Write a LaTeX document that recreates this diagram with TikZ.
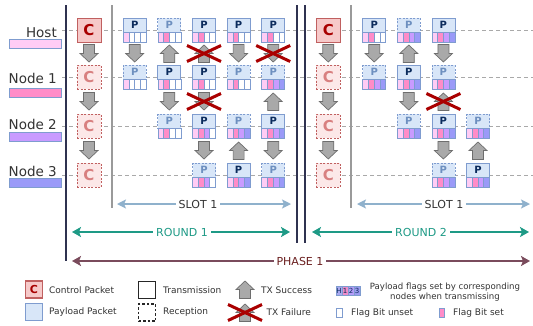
\documentclass[tikz,border=0pt]{standalone}
\usepackage{fontspec}
\setmainfont{DejaVu Sans}
\usetikzlibrary{arrows.meta}

\definecolor{fl1}{HTML}{FFCCF5}
\definecolor{fl2}{HTML}{FF8CC8}
\definecolor{fl3}{HTML}{C99BFF}
\definecolor{fl4}{HTML}{9A9AF8}
\definecolor{pblue}{HTML}{7F9CCF}
\definecolor{pfill}{HTML}{D8E6F8}
\definecolor{pnavy}{HTML}{0B2B5C}
\definecolor{plight}{HTML}{6D8FBF}
\definecolor{cfill}{HTML}{F6C9C9}
\definecolor{cfillr}{HTML}{FCE8E8}
\definecolor{cbord}{HTML}{C06060}
\definecolor{ctext}{HTML}{A80000}
\definecolor{ctextr}{HTML}{D88080}
\definecolor{darkline}{HTML}{2F3250}
\definecolor{grayline}{HTML}{9A9A9A}
\definecolor{slotc}{HTML}{8FB1CC}
\definecolor{roundc}{HTML}{1E9A86}
\definecolor{phasec}{HTML}{7A4B5C}
\definecolor{phaset}{HTML}{6A1E1E}
\definecolor{xred}{HTML}{AA0000}
\definecolor{garf}{HTML}{A9A9A9}
\definecolor{gard}{HTML}{6E6E6E}
\definecolor{txt}{HTML}{333333}

\tikzset{
  ptop/.style={draw=pblue, fill=pfill, line width=0.8pt, minimum width=23pt, minimum height=14pt,
    inner sep=0pt, outer sep=0pt, font=\bfseries\fontsize{10}{10}\selectfont},
  ptx/.style={solid, text=pnavy},
  prx/.style={dash pattern=on 2pt off 1.5pt, text=plight},
  flagc/.style={draw=pblue, line width=0.6pt, minimum width=5.75pt, minimum height=10pt, inner sep=0pt, outer sep=0pt},
  cbox/.style={draw=cbord, fill=cfill, line width=0.9pt, minimum size=24pt, inner sep=0pt,
    font=\bfseries\fontsize{15}{15}\selectfont, text=ctext},
  cboxr/.style={cbox, fill=cfillr, text=ctextr, dash pattern=on 2pt off 1.5pt},
  garrow/.style={draw=gard, fill=garf, line width=0.7pt, line join=miter},
  xcross/.style={draw=xred, line width=3pt},
  rowline/.style={draw=grayline!85, dash pattern=on 4pt off 3pt, line width=0.8pt},
  lbl/.style={font=\fontsize{13.5}{14}\selectfont, text=txt, inner sep=0pt, anchor=base east},
  bar/.style={draw=pblue, line width=0.8pt, minimum width=52pt, minimum height=9pt, inner sep=0pt},
  darkv/.style={draw=darkline, line width=2.4pt},
  grayv/.style={draw=grayline, line width=1.5pt},
  slotarr/.style={draw=slotc, line width=1.4pt, {Stealth[length=9pt,width=9pt,inset=2pt]}-{Stealth[length=9pt,width=9pt,inset=2pt]}},
  roundarr/.style={draw=roundc, line width=1.4pt, {Stealth[length=9pt,width=10pt,inset=2pt]}-{Stealth[length=9pt,width=10pt,inset=2pt]}},
  phasearr/.style={draw=phasec, line width=1.6pt, {Stealth[length=9pt,width=10pt,inset=2pt]}-{Stealth[length=9pt,width=10pt,inset=2pt]}},
  slotlbl/.style={fill=white, inner sep=3pt, text=txt, font=\fontsize{11}{12}\selectfont},
  roundlbl/.style={fill=white, inner sep=3pt, text=roundc, font=\fontsize{11}{12}\selectfont},
  phaselbl/.style={fill=white, inner sep=3pt, text=phaset, font=\fontsize{11}{12}\selectfont},
  legtxt/.style={anchor=west, inner sep=0pt, text=txt, font=\fontsize{9}{10}\selectfont},
  legbox/.style={minimum size=17pt, inner sep=0pt, line width=1.2pt},
}

% payload packet: name, x, y, style, number of set flags
\newcommand\Pkt[5]{%
  \node[ptop,#4] (#1) at (#2,{#3-5}) {P};
  \foreach \i in {1,...,4}{%
    \pgfmathsetmacro\fx{#2-11.5+5.75*(\i-0.5)}%
    \ifnum\i>#5 \def\fc{white}\else\def\fc{fl\i}\fi
    \node[flagc,fill=\fc] (#1f\i) at (\fx,{#3+7}) {};
  }%
}
% gray block arrow: x, y, dir (1 down, -1 up)
\newcommand\Garr[3]{%
  \draw[garrow] ({#1-5.5},{#2-9*(#3)}) -- ({#1+5.5},{#2-9*(#3)}) -- ({#1+5.5},#2) -- ({#1+9},#2)
    -- (#1,{#2+8.5*(#3)}) -- ({#1-9},#2) -- ({#1-5.5},#2) -- cycle;}
% red cross
\newcommand\Xx[2]{%
  \draw[xcross] ({#1-17},{#2-8}) -- ({#1+17},{#2+8});
  \draw[xcross] ({#1-17},{#2+8}) -- ({#1+17},{#2-8});}

\begin{document}
\begin{tikzpicture}[x=1pt,y=-1pt]
\useasboundingbox (0,0) rectangle (533,325);
\fill[white] (0,0) rectangle (533,325);

% row lines
\foreach \yy in {30,77,126,175}{\draw[rowline] (62,\yy) -- (533,\yy);}

% vertical lines
\draw[darkv] (66,5) -- (66,261);
\draw[grayv] (112,5) -- (112,208);
\draw[darkv] (297,5) -- (297,243);
\draw[darkv] (305,5) -- (305,243);
\draw[grayv] (351,5) -- (351,208);

% row labels
\node[lbl] (lh) at (57,37) {Host};
\node[bar,fill=fl1] (bh) at (35,43.5) {};
\node[lbl] (l1) at (57,83) {Node 1};
\node[bar,fill=fl2] (b1) at (35,92.5) {};
\node[lbl] (l2) at (57,129) {Node 2};
\node[bar,fill=fl3] (b2) at (35,137) {};
\node[lbl] (l3) at (57,176) {Node 3};
\node[bar,fill=fl4] (b3) at (35,183) {};

% control packets round 1
\node[cbox] (c1h) at (89,30) {C};
\node[cboxr] (c11) at (89,77) {C};
\node[cboxr] (c12) at (89,126) {C};
\node[cboxr] (c13) at (89,175) {C};
\Garr{89}{53.5}{1}
\Garr{89}{101.5}{1}
\Garr{89}{150.5}{1}

% control packets round 2
\node[cbox] (c2h) at (328.3,30) {C};
\node[cboxr] (c21) at (328.3,77) {C};
\node[cboxr] (c22) at (328.3,126) {C};
\node[cboxr] (c23) at (328.3,175) {C};
\Garr{328.3}{53.5}{1}
\Garr{328.3}{101.5}{1}
\Garr{328.3}{150.5}{1}

% round 1 payloads
\Pkt{ah1}{134.7}{30}{ptx}{1}
\Pkt{ah2}{169.3}{30}{prx}{2}
\Pkt{ah3}{204}{30}{ptx}{2}
\Pkt{ah4}{238.6}{30}{ptx}{2}
\Pkt{ah5}{273.2}{30}{ptx}{2}
\Pkt{aa1}{134.7}{77}{prx}{1}
\Pkt{aa2}{169.3}{77}{ptx}{2}
\Pkt{aa3}{204}{77}{ptx}{2}
\Pkt{aa4}{238.6}{77}{prx}{2}
\Pkt{aa5}{273.2}{77}{prx}{4}
\Pkt{ab2}{169.3}{126}{prx}{2}
\Pkt{ab3}{204}{126}{ptx}{3}
\Pkt{ab4}{238.6}{126}{prx}{4}
\Pkt{ab5}{273.2}{126}{ptx}{4}
\Pkt{ac3}{204}{175}{prx}{3}
\Pkt{ac4}{238.6}{175}{ptx}{4}
\Pkt{ac5}{273.2}{175}{prx}{4}

\Garr{134.7}{53.5}{1}
\Garr{169.3}{53.5}{-1}
\Garr{204}{53.5}{-1}\Xx{204}{53.5}
\Garr{238.6}{53.5}{1}
\Garr{273.2}{53.5}{1}\Xx{273.2}{53.5}
\Garr{169.3}{101.5}{1}
\Garr{204}{101.5}{1}\Xx{204}{101.5}
\Garr{273.2}{101.5}{-1}
\Garr{204}{150.5}{1}
\Garr{238.6}{150.5}{-1}
\Garr{273.2}{150.5}{1}

% round 2 payloads
\Pkt{bh1}{374.2}{30}{ptx}{2}
\Pkt{bh2}{408.8}{30}{prx}{4}
\Pkt{bh3}{443.4}{30}{ptx}{4}
\Pkt{ba1}{374.2}{77}{prx}{4}
\Pkt{ba2}{408.8}{77}{ptx}{4}
\Pkt{ba3}{443.4}{77}{prx}{4}
\Pkt{bb2}{408.8}{126}{prx}{4}
\Pkt{bb3}{443.4}{126}{ptx}{4}
\Pkt{bb4}{478}{126}{prx}{4}
\Pkt{bc3}{443.4}{175}{prx}{4}
\Pkt{bc4}{478}{175}{ptx}{4}

\Garr{374.2}{53.5}{1}
\Garr{408.8}{53.5}{-1}
\Garr{443.4}{53.5}{1}
\Garr{408.8}{101.5}{1}
\Garr{443.4}{101.5}{-1}\Xx{443.4}{101.5}
\Garr{443.4}{150.5}{1}
\Garr{478}{150.5}{-1}

% slot / round / phase arrows
\coordinate (s1l) at (117,204); \coordinate (s1r) at (291,204);
\draw[slotarr] (s1l) -- (s1r);
\node[slotlbl] (s1) at (198,204) {SLOT 1};
\coordinate (s2l) at (357,204); \coordinate (s2r) at (530,204);
\draw[slotarr] (s2l) -- (s2r);
\node[slotlbl] (s2) at (444,204) {SLOT 1};
\coordinate (r1l) at (72,232); \coordinate (r1r) at (290,232);
\draw[roundarr] (r1l) -- (r1r);
\node[roundlbl] (r1) at (182,232) {ROUND 1};
\coordinate (r2l) at (312,232); \coordinate (r2r) at (529,232);
\draw[roundarr] (r2l) -- (r2r);
\node[roundlbl] (r2) at (421,232) {ROUND 2};
\coordinate (p1l) at (72,261); \coordinate (p1r) at (530,261);
\draw[phasearr] (p1l) -- (p1r);
\node[phaselbl] (ph) at (300,261) {PHASE 1};

% legend
\node[legbox,draw=cbord,fill=cfill,font=\bfseries\fontsize{11}{11}\selectfont,text=ctext] (lgc) at (34,289.5) {C};
\node[legtxt] (lgct) at (49,290) {Control Packet};
\node[legbox,draw=pblue,fill=pfill] (lgp) at (34,312) {};
\node[legtxt] (lgpt) at (49,312.5) {Payload Packet};
\node[legbox,draw=black!85,fill=white] (lgt) at (147,290) {};
\node[legtxt] (lgtt) at (163,290) {Transmission};
\node[legbox,draw=black!85,fill=white,dash pattern=on 2.5pt off 2pt] (lgr) at (147,312.5) {};
\node[legtxt] (lgrt) at (163,312.5) {Reception};
\Garr{245}{289.5}{-1}
\node[legtxt] (lgst) at (261,290.5) {TX Success};
\Garr{245}{312.5}{-1}\Xx{245}{312.5}
\node[legtxt] (lgft) at (266.5,312.5) {TX Failure};

\foreach \c/\t/\k in {1/H/A8A8F0,2/1/F08CC8,3/2/B49CF8,4/3/9A9AF0}{%
  \pgfmathsetmacro\fx{336+6*(\c-0.5)}%
  \definecolor{tmpc}{HTML}{\k}%
  \node[draw=pblue,line width=0.5pt,fill=tmpc,minimum width=6pt,minimum height=9pt,inner sep=0pt,
        font=\fontsize{7}{7}\selectfont,text=pnavy] (lgh\c) at (\fx,290.5) {\t};
}
\node[text=txt,font=\fontsize{8.6}{10}\selectfont,align=center,inner sep=0pt] (lgd) at (445,292)
  {Payload flags set by corresponding\\nodes when transmissing};
\node[flagc,fill=white,minimum width=5.5pt,minimum height=9.5pt] (lgu) at (339.3,313) {};
\node[legtxt] (lgut) at (351,313) {Flag Bit unset};
\node[flagc,fill=fl2,minimum width=5.5pt,minimum height=9.5pt] (lgs) at (441.7,313) {};
\node[legtxt] (lgst2) at (453,313) {Flag Bit set};
\end{tikzpicture}
\end{document}
